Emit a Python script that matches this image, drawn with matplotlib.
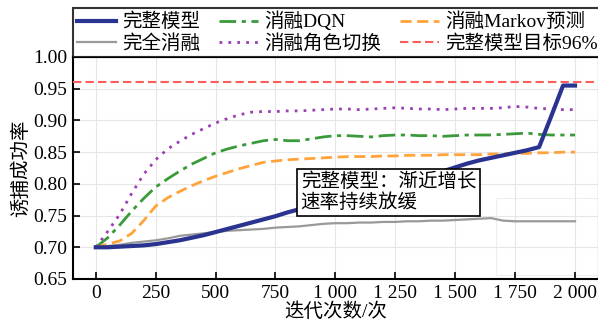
import matplotlib
matplotlib.use("Agg")
import matplotlib.pyplot as plt
from matplotlib.patches import Rectangle
from matplotlib.ticker import FuncFormatter, MultipleLocator

plt.rcParams['font.family'] = ['Liberation Serif', 'Noto Sans CJK SC', 'DejaVu Sans']
plt.rcParams['font.size'] = 14

iters = list(range(0, 2001, 50))

full_model = [0.700, 0.700, 0.701, 0.702, 0.703, 0.705, 0.708, 0.711, 0.715, 0.719,
              0.724, 0.729, 0.734, 0.739, 0.744, 0.749, 0.755, 0.760, 0.765, 0.770,
              0.775, 0.780, 0.785, 0.790, 0.795, 0.800, 0.805, 0.810, 0.815, 0.820,
              0.826, 0.832, 0.837, 0.841, 0.845, 0.849, 0.853, 0.858, 0.906, 0.955, 0.955]
full_ablation = [0.700, 0.702, 0.704, 0.707, 0.709, 0.711, 0.714, 0.718, 0.720, 0.722,
                 0.724, 0.726, 0.727, 0.728, 0.729, 0.731, 0.732, 0.733, 0.735, 0.737,
                 0.738, 0.738, 0.739, 0.739, 0.740, 0.740, 0.741, 0.741, 0.742, 0.742,
                 0.743, 0.744, 0.745, 0.746, 0.742, 0.741, 0.741, 0.741, 0.741, 0.741, 0.741]
ablation_dqn = [0.700, 0.715, 0.735, 0.757, 0.777, 0.795, 0.808, 0.820, 0.831, 0.840,
                0.849, 0.855, 0.860, 0.864, 0.868, 0.870, 0.868, 0.868, 0.871, 0.874,
                0.876, 0.876, 0.875, 0.874, 0.876, 0.877, 0.877, 0.876, 0.876, 0.875,
                0.876, 0.877, 0.877, 0.877, 0.878, 0.879, 0.880, 0.878, 0.877, 0.877, 0.877]
ablation_role = [0.700, 0.725, 0.752, 0.785, 0.815, 0.838, 0.855, 0.867, 0.878, 0.887,
                 0.896, 0.903, 0.909, 0.913, 0.914, 0.914, 0.915, 0.915, 0.916, 0.917,
                 0.918, 0.918, 0.917, 0.918, 0.919, 0.920, 0.919, 0.918, 0.918, 0.917,
                 0.918, 0.919, 0.919, 0.919, 0.920, 0.922, 0.921, 0.919, 0.918, 0.917, 0.917]
ablation_markov = [0.700, 0.705, 0.710, 0.722, 0.742, 0.765, 0.778, 0.788, 0.797, 0.805,
                   0.812, 0.818, 0.824, 0.829, 0.834, 0.836, 0.838, 0.839, 0.840, 0.841,
                   0.842, 0.843, 0.843, 0.843, 0.844, 0.844, 0.845, 0.845, 0.845, 0.846,
                   0.846, 0.846, 0.846, 0.847, 0.847, 0.848, 0.848, 0.849, 0.849, 0.850, 0.850]
target = 0.96

labels = ['完整模型', '完全消融', '消融DQN', '消融角色切换', '消融Markov预测', '完整模型目标96%']

fig = plt.figure(figsize=(5.98, 3.27), dpi=100)
ax = fig.add_axes([73/598, 1-279/327, 526/598, (279-57)/327])

ax.grid(True, color='#e6e6e6', lw=0.8, zorder=0)
ax.add_patch(Rectangle((1670, 0.656), 500, 0.122, facecolor='white', edgecolor='#eeeeee',
                       lw=0.8, zorder=1.5))

h1, = ax.plot(iters, full_model, color='#2a3490', lw=3, zorder=5)
h2, = ax.plot(iters, full_ablation, color='#999999', lw=1.6, zorder=3)
h3, = ax.plot(iters, ablation_dqn, color='#3a9a3a', lw=2, ls=(0, (6, 2, 1.5, 2)), zorder=3)
h4, = ax.plot(iters, ablation_role, color='#9b3fb5', lw=2, ls=(0, (1, 2.2)), zorder=3)
h5, = ax.plot(iters, ablation_markov, color='#ffa33a', lw=2, ls=(0, (4, 2)), zorder=3)
h6 = ax.axhline(target, color='#ff5c5c', lw=1.5, ls=(0, (4, 2)), zorder=3)

ax.set_xlim(-95, 2100)
ax.set_ylim(0.65, 1.00)
ax.xaxis.set_major_locator(MultipleLocator(250))
ax.yaxis.set_major_locator(MultipleLocator(0.05))
ax.xaxis.set_major_formatter(FuncFormatter(lambda v, p: f"{int(v):,}".replace(',', ' ')))
ax.yaxis.set_major_formatter(FuncFormatter(lambda v, p: f"{v:.2f}"))
ax.tick_params(direction='in', length=5, width=1.2, labelsize=14, pad=4)
for s in ax.spines.values():
    s.set_linewidth(1.5)

ax.set_xlabel('迭代次数/次', fontsize=14, labelpad=1)
ax.set_ylabel('诱捕成功率', fontsize=14, labelpad=2)

ax.text(855, 0.818, '完整模型：渐近增长\n速率持续放缓', fontsize=14, va='top', ha='left',
        linespacing=1.15, zorder=6,
        bbox=dict(boxstyle='square,pad=0.2', facecolor='white', edgecolor='black', lw=1.2))

leg = fig.legend([h1, h2, h3, h4, h5, h6], labels, ncol=3, loc='lower left',
                 bbox_to_anchor=(73/598, 1-57/327), borderaxespad=0, frameon=True,
                 fancybox=False, edgecolor='black', fontsize=14, handlelength=2.0,
                 handletextpad=0.3, columnspacing=1.0, labelspacing=0.15,
                 borderpad=0.2)
leg.get_frame().set_linewidth(1.5)

fig.savefig('out.png', dpi=100)
